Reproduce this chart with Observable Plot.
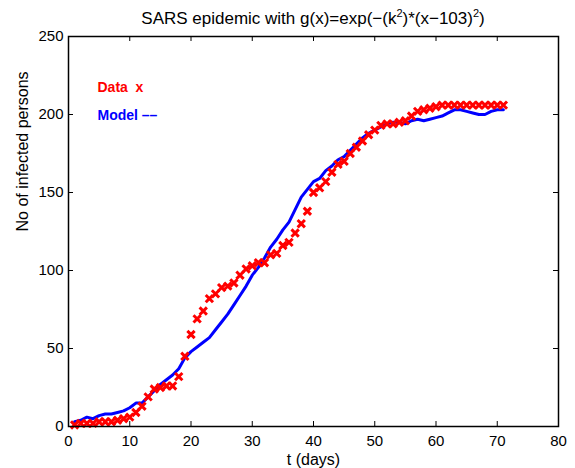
<!DOCTYPE html>
<html><head><meta charset="utf-8">
<script src="https://cdn.jsdelivr.net/npm/d3@7"></script>
<script src="https://cdn.jsdelivr.net/npm/@observablehq/plot@0.6"></script>
<style>
body{margin:0;background:#fff;font-family:"Liberation Sans",Arial,Helvetica,sans-serif;}
#title{height:26px;box-sizing:border-box;padding:10px 17px 0 68px;text-align:center;font-size:17px;line-height:17px;white-space:nowrap;color:#000}
#title sup{font-size:11px;line-height:0;vertical-align:7px}
</style></head><body>
<div id="title">SARS epidemic with g(x)=exp(−(k<sup>2</sup>)*(x−103)<sup>2</sup>)</div>
<div id="chart"></div>
<script>
const days = [1,2,3,4,5,6,7,8,9,10,11,12,13,14,15,16,17,18,19,20,21,22,23,24,25,26,27,28,29,30,31,32,33,34,35,36,37,38,39,40,41,42,43,44,45,46,47,48,49,50,51,52,53,54,55,56,57,58,59,60,61,62,63,64,65,66,67,68,69,70,71];
const dataValues = [1,2,2,2,3,3,3,4,5,6,9,13,19,24,25,26,26,32,45,59,69,74,82,85,89,90,92,97,101,103,105,105,110,111,116,118,124,130,138,150,153,157,163,168,170,175,179,183,187,190,193,194,194,195,196,199,202,203,204,205,206,206,206,206,206,206,206,206,206,206,206];
const modelValues = [3,4,6,5,7,8,8,9,10,12,15,15,19,23,27,30,33,37,44,48,51,54,57,62,67,72,78,84,90,97,102,108,115,120,126,131,139,147,152,157,159,164,167,171,173,177,181,185,188,190,192,194,195,195,194,196,197,196,197,198,199,201,203,203,202,201,200,200,202,203,203];
const xTicks = [0,10,20,30,40,50,60,70,80];
const yTicks = [0,50,100,150,200,250];
const legendLabels = ["Data  x", "Model ––"];
const legendColors = ["#ff0000", "#0000ff"];
const xLabel = "t (days)";
const yLabel = "No of infected persons";

const data = days.map((d,i)=>({day:d, value:dataValues[i]}));
const model = days.map((d,i)=>({day:d, value:modelValues[i]}));

const W = 575, H = 442, mL = 68, mR = 17, mT = 10, mB = 42;
const xDom = [0,80], yDom = [0,250];
const tl = 5;
const tlx = tl*(xDom[1]-xDom[0])/(W-mL-mR);
const tly = tl*(yDom[1]-yDom[0])/(H-mT-mB);

const plot = Plot.plot({
  width: W, height: H,
  marginLeft: mL, marginRight: mR, marginTop: mT, marginBottom: mB,
  style: {fontFamily: "'Liberation Sans', Arial, Helvetica, sans-serif", fontSize: "15px", background: "white", color: "black", overflow: "visible"},
  x: {domain: xDom},
  y: {domain: yDom},
  marks: [
    Plot.axisX(xTicks, {tickSize: 0, tickPadding: 9, fontSize: 15, label: null}),
    Plot.axisY(yTicks, {tickSize: 0, tickPadding: 5, fontSize: 15, label: null}),
    Plot.ruleX(xTicks, {x: d=>d, y1: yDom[0], y2: yDom[0]+tly, stroke: "black", strokeWidth: 1}),
    Plot.ruleX(xTicks, {x: d=>d, y1: yDom[1], y2: yDom[1]-tly, stroke: "black", strokeWidth: 1}),
    Plot.ruleY(yTicks, {y: d=>d, x1: xDom[0], x2: xDom[0]+tlx, stroke: "black", strokeWidth: 1}),
    Plot.ruleY(yTicks, {y: d=>d, x1: xDom[1], x2: xDom[1]-tlx, stroke: "black", strokeWidth: 1}),
    Plot.line(model, {x: "day", y: "value", stroke: "#0000ff", strokeWidth: 3, strokeLinejoin: "round"}),
    Plot.dot(data, {x: "day", y: "value", symbol: "times", stroke: "#ff0000", strokeWidth: 3, r: 3.4}),
    Plot.frame({stroke: "black", strokeWidth: 1.5}),
    Plot.text([legendLabels[0]], {frameAnchor: "top-left", dx: 29, dy: 51, fill: legendColors[0], fontWeight: "bold", fontSize: 14, textAnchor: "start", lineAnchor: "middle"}),
    Plot.text([legendLabels[1]], {frameAnchor: "top-left", dx: 29, dy: 79, fill: legendColors[1], fontWeight: "bold", fontSize: 14, textAnchor: "start", lineAnchor: "middle"}),
    Plot.text([xLabel], {frameAnchor: "bottom", dy: 33, fontSize: 16, lineAnchor: "middle"}),
    Plot.text([yLabel], {frameAnchor: "left", dx: -46, rotate: -90, fontSize: 16, lineAnchor: "middle"})
  ]
});
document.getElementById("chart").appendChild(plot);
</script>
</body></html>
